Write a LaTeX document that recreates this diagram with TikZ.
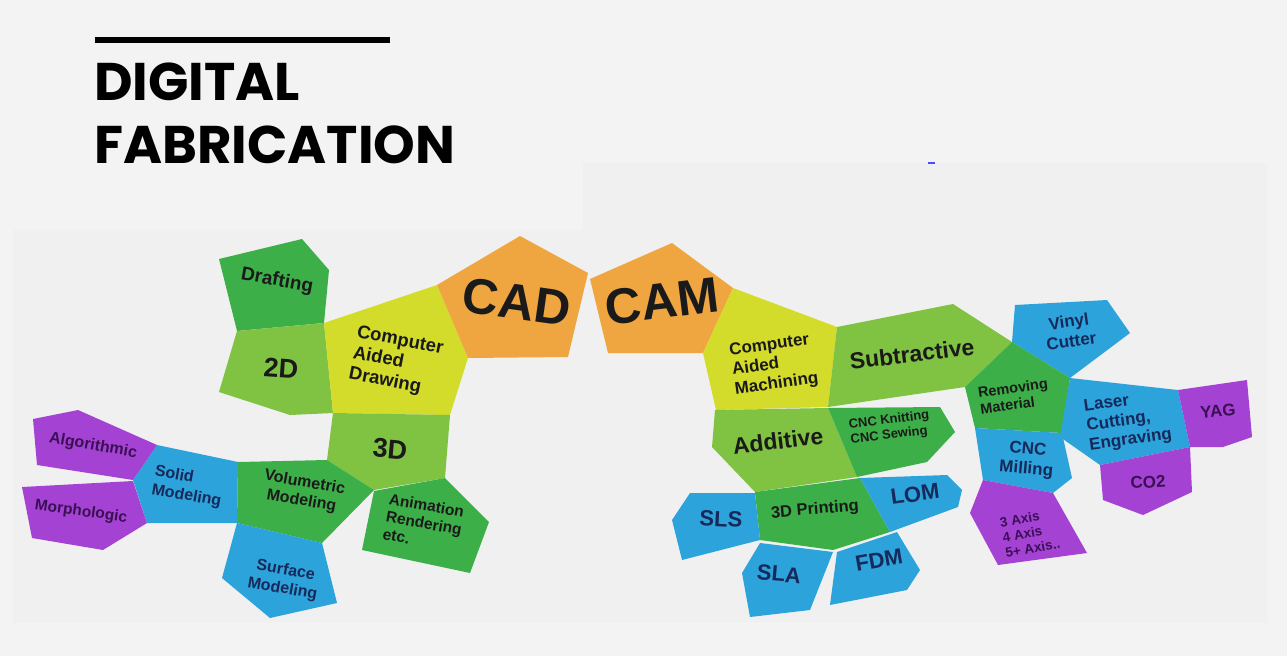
\documentclass[tikz,border=0pt]{standalone}
\usepackage{fontspec}
\setmainfont{Liberation Sans}
\newfontfamily\titlefont{Poppins}
\definecolor{bgc}{HTML}{F3F3F3}
\definecolor{imgc}{HTML}{F0F0F0}
\definecolor{orng}{HTML}{EFA540}
\definecolor{yell}{HTML}{D3DB2B}
\definecolor{lgrn}{HTML}{80C241}
\definecolor{dgrn}{HTML}{3DAF49}
\definecolor{blu}{HTML}{2DA3DB}
\definecolor{purp}{HTML}{A443D3}
\definecolor{txtk}{HTML}{1A1A1A}
\definecolor{txtb}{HTML}{16295A}
\definecolor{txtp}{HTML}{3B0F55}
\tikzset{
  lbl/.style={font=\bfseries\fontsize{#1}{\dimexpr#1pt*23/20\relax}\selectfont, text=txtk, inner sep=0pt, align=center},
  lbl/.default=17,
  lblb/.style={lbl=#1, text=txtb},
  lblb/.default=17,
  lblp/.style={lbl=#1, text=txtp},
  lblp/.default=17,
  ttl/.style={font=\titlefont\bfseries\fontsize{53}{53}\selectfont, anchor=base west, inner sep=0pt, text=black}
}
\begin{document}
\begin{tikzpicture}[x=1pt,y=-1pt]
\useasboundingbox (0,0) rectangle (1287,656);
\fill[bgc] (0,0) rectangle (1287,656);
\fill[imgc] (13,230) -- (583,230) -- (583,163) -- (1267,163) -- (1267,622) -- (13,622) -- cycle;
\draw[blue!70, line width=1.2pt] (928,163) -- (935,163);
% title
\fill[black] (95,37) rectangle (390,43);
\node[ttl] (t1) at (94,100) {DIGITAL};
\node[ttl] (t2) at (94,163) {FABRICATION};
% ---------- left (CAD) ----------
\fill[dgrn] (219,259) -- (302,239) -- (329,270) -- (324,323) -- (237,331) -- cycle;
\fill[lgrn] (237,331) -- (324,323) -- (333,413) -- (290,415) -- (219,392) -- cycle;
\fill[yell] (324,323) -- (437,285) -- (468,358) -- (450,415) -- (333,413) -- cycle;
\fill[orng] (437,285) -- (520,236) -- (588,273) -- (568,357) -- (468,358) -- cycle;
\fill[lgrn] (333,413) -- (450,415) -- (445,478) -- (374,490) -- (327,460) -- cycle;
\fill[dgrn] (238,462) -- (327,460) -- (374,490) -- (322,543) -- (237,523) -- cycle;
\fill[dgrn] (374,491) -- (445,478) -- (489,522) -- (470,573) -- (362,550) -- cycle;
\fill[blu] (157,445) -- (238,462) -- (237,523) -- (147,523) -- (133,480) -- cycle;
\fill[purp] (33,419) -- (78,410) -- (157,445) -- (133,480) -- (37,465) -- cycle;
\fill[purp] (22,487) -- (133,481) -- (147,523) -- (103,550) -- (32,538) -- cycle;
\fill[blu] (237,523) -- (322,543) -- (337,603) -- (270,618) -- (222,578) -- cycle;
% ---------- right (CAM) ----------
\fill[orng] (590,279) -- (672,243) -- (733,288) -- (703,353) -- (608,353) -- cycle;
\fill[yell] (733,288) -- (837,327) -- (828,407) -- (716,410) -- (703,353) -- cycle;
\fill[lgrn] (837,327) -- (953,304) -- (1012,342) -- (965,387) -- (828,407) -- cycle;
\fill[blu] (1015,305) -- (1107,300) -- (1130,333) -- (1070,378) -- (1012,342) -- cycle;
\fill[dgrn] (1012,342) -- (1070,378) -- (1062,433) -- (975,428) -- (965,387) -- cycle;
\fill[blu] (1070,378) -- (1178,390) -- (1190,447) -- (1100,465) -- (1060,437) -- cycle;
\fill[purp] (1178,390) -- (1247,380) -- (1252,437) -- (1223,447) -- (1190,447) -- cycle;
\fill[purp] (1100,465) -- (1190,447) -- (1192,492) -- (1143,515) -- (1103,500) -- cycle;
\fill[blu] (975,428) -- (1062,433) -- (1072,478) -- (1053,493) -- (983,480) -- cycle;
\fill[purp] (983,480) -- (1053,493) -- (1087,553) -- (998,565) -- (970,513) -- cycle;
\fill[lgrn] (715,410) -- (828,408) -- (857,477) -- (755,492) -- (712,447) -- cycle;
\fill[dgrn] (828,408) -- (940,407) -- (955,432) -- (927,462) -- (857,477) -- cycle;
\fill[dgrn] (755,492) -- (860,478) -- (890,532) -- (833,550) -- (760,540) -- cycle;
\fill[blu] (860,478) -- (947,475) -- (962,490) -- (958,507) -- (890,532) -- cycle;
\fill[blu] (690,493) -- (755,493) -- (760,540) -- (682,560) -- (672,520) -- cycle;
\fill[blu] (760,543) -- (833,552) -- (810,610) -- (750,617) -- (742,573) -- cycle;
\fill[blu] (837,552) -- (897,532) -- (920,570) -- (907,590) -- (830,605) -- cycle;
% ---------- labels ----------
\node[lbl=19, rotate=-10] (drafting) at (277,281) {Drafting};
\node[lbl=27, rotate=-4] (twod) at (281,368) {2D};
\node[lbl=18.5, rotate=-11, align=left] (cadraw) at (396,362) {Computer\\Aided\\Drawing};
\node[lbl=50, rotate=-8] (cad) at (517,302) {CAD};
\node[lbl=27, rotate=-5] (threed) at (390,449) {3D};
\node[lbl=15.5, rotate=-10, align=left] (anim) at (424,523) {Animation\\Rendering\\etc.};
\node[lbl=16, rotate=-10] (volu) at (303,492) {Volumetric\\Modeling};
\node[lblb=16, rotate=-10, align=left] (solid) at (188,487) {Solid\\Modeling};
\node[lblb=16, rotate=-10] (surf) at (284,580) {Surface\\Modeling};
\node[lblp=16, rotate=-10] (algo) at (93,446) {Algorithmic};
\node[lblp=15.5, rotate=-8] (morph) at (81,512) {Morphologic};
\node[lbl=50, rotate=7] (cam) at (662,301) {CAM};
\node[lbl=17, rotate=8, align=left] (camach) at (774,365) {Computer\\Aided\\Machining};
\node[lbl=23, rotate=7] (subtr) at (912,354) {Subtractive};
\node[lblb=17, rotate=8] (vinyl) at (1070,331) {Vinyl\\Cutter};
\node[lbl=14.5, rotate=8, align=left] (remov) at (1014,396) {Removing\\Material};
\node[lblb=17, rotate=8, align=left] (laser) at (1128,421) {Laser\\Cutting,\\Engraving};
\node[lblp=17, rotate=5] (yag) at (1218,411) {YAG};
\node[lblp=17, rotate=3] (co2) at (1148,482) {CO2};
\node[lblb=17, rotate=-5] (milling) at (1027,460) {CNC\\Milling};
\node[lblp=13.5, rotate=10, align=left] (axis) at (1030,533) {3 Axis\\4 Axis\\5+ Axis..};
\node[lbl=23, rotate=7] (addit) at (778,441) {Additive};
\node[lbl=13, rotate=7, align=left] (knit) at (890,428) {CNC Knitting\\CNC Sewing};
\node[lbl=16.5, rotate=5] (print) at (815,510) {3D Printing};
\node[lblb=22, rotate=-3] (sls) at (721,519) {SLS};
\node[lblb=22, rotate=-5] (sla) at (779,574) {SLA};
\node[lblb=22, rotate=10] (fdm) at (879,560) {FDM};
\node[lblb=22, rotate=8] (lom) at (915,494) {LOM};
\end{tikzpicture}
\end{document}
